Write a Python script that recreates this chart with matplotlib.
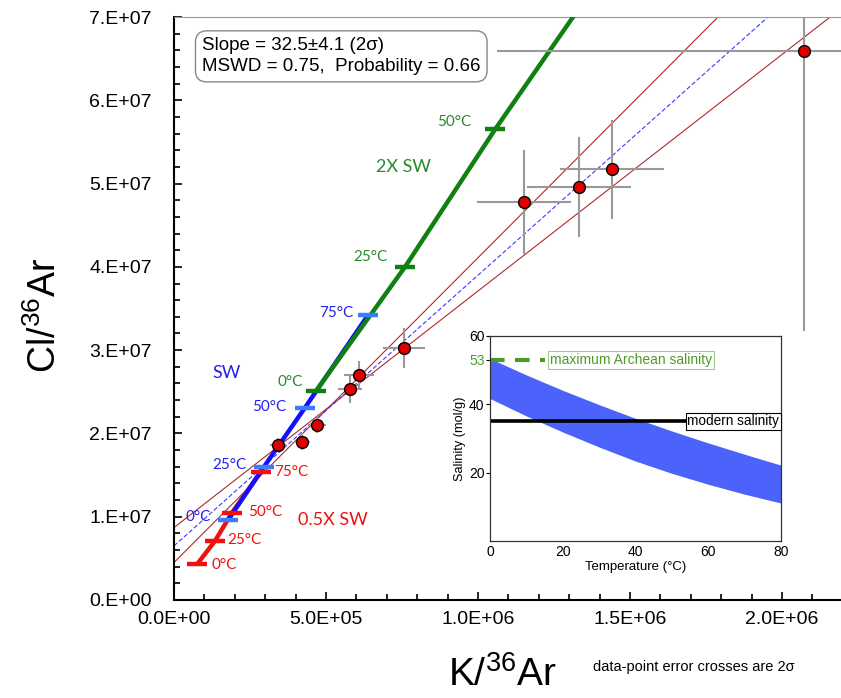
import matplotlib
matplotlib.use("Agg")
import matplotlib.pyplot as plt
from matplotlib.ticker import MultipleLocator, FuncFormatter

# isochron data points (K/36Ar, Cl/36Ar) with 2-sigma errors
k_pts = [3.42e5, 4.21e5, 4.70e5, 5.79e5, 6.09e5, 7.57e5, 1.151e6, 1.332e6, 1.441e6, 2.072e6]
cl_pts = [1.86e7, 1.90e7, 2.10e7, 2.53e7, 2.70e7, 3.02e7, 4.78e7, 4.96e7, 5.17e7, 6.59e7]
k_err = [2.5e4, 2.6e4, 3.0e4, 3.8e4, 5.0e4, 7.0e4, 1.55e5, 1.7e5, 1.7e5, 1.01e6]
cl_err = [8e5, 1.0e6, 1.0e6, 1.6e6, 1.7e6, 2.4e6, 6.2e6, 6.0e6, 5.9e6, 3.36e7]

# regression fit and envelope
slope, slope_err = 32.5, 4.1
icpt_mid, icpt_lo, icpt_hi = 6.5e6, 4.5e6, 8.7e6

# seawater-equilibrated compositions at 0, 25, 50, 75 C
temps = ["0°C", "25°C", "50°C", "75°C"]
k_half = [7.6e4, 1.35e5, 1.91e5, 2.86e5]
cl_half = [4.3e6, 7.1e6, 1.05e7, 1.54e7]
k_sw = [1.78e5, 2.96e5, 4.31e5, 6.38e5]
cl_sw = [9.6e6, 1.6e7, 2.31e7, 3.42e7]
k_2x = [4.67e5, 7.6e5, 1.056e6, 1.398e6]
cl_2x = [2.51e7, 4.0e7, 5.65e7, 7.45e7]

# inset: salinity band vs temperature
t_inset = [0, 10, 20, 30, 40, 50, 60, 70, 80]
sal_hi = [53.4, 48.6, 44.1, 39.9, 35.9, 32.2, 28.7, 25.4, 22.2]
sal_lo = [41.7, 36.6, 31.9, 27.5, 23.4, 19.8, 16.6, 13.7, 11.1]
modern_sal = 35
archean_sal = 53

W, H = 841, 698
plt.rcParams['font.family'] = ['Liberation Sans', 'DejaVu Sans']
plt.rcParams['mathtext.fontset'] = 'custom'
plt.rcParams['mathtext.rm'] = 'Liberation Sans'
plt.rcParams['mathtext.it'] = 'Liberation Sans'
fig = plt.figure(figsize=(W / 100, H / 100), dpi=100)

def fx(px):
    return px / W

def fy(py):
    return 1 - py / H

ax = fig.add_axes([fx(174), fy(600), 1 - fx(174), (600 - 17) / H])
ax.set_xlim(0, 2.194e6)
ax.set_ylim(0, 7e7)

# envelope and fit lines
xs = [0, 2.3e6]
ax.plot(xs, [icpt_hi + (slope - slope_err) * x for x in xs], color="#b02a2a", lw=0.8, zorder=2)
ax.plot(xs, [icpt_lo + (slope + slope_err) * x for x in xs], color="#b02a2a", lw=0.8, zorder=2)
ax.plot(xs, [icpt_mid + slope * x for x in xs], color="#3a3aff", lw=0.8, dashes=(4, 2), zorder=2)

# seawater lines
ax.plot(k_half, cl_half, color="#f01010", lw=3.2, solid_capstyle="butt", zorder=3)
ax.plot(k_sw, cl_sw, color="#1010ff", lw=3.2, solid_capstyle="butt", zorder=4)
ax.plot(k_2x, cl_2x, color="#108010", lw=3.2, solid_capstyle="butt", zorder=5)
ax.plot(k_half, cl_half, ls="none", marker="_", ms=15, mew=3.2, color="#f01010", zorder=6)
ax.plot(k_sw, cl_sw, ls="none", marker="_", ms=15, mew=3.2, color="#3a7cff", zorder=6)
ax.plot(k_2x, cl_2x, ls="none", marker="_", ms=15, mew=3.2, color="#108010", zorder=6)

# data points
ax.errorbar(k_pts, cl_pts, xerr=k_err, yerr=cl_err, fmt="none", ecolor="#999999",
            elinewidth=1.5, zorder=7)
ax.plot(k_pts, cl_pts, ls="none", marker="o", ms=8.5, mfc="#e00000", mec="black",
        mew=1.0, zorder=8)

ax.spines["right"].set_visible(False)
ax.spines["top"].set_color("#999999")
ax.spines["left"].set_linewidth(1.5)
ax.spines["bottom"].set_linewidth(1.5)
ax.xaxis.set_major_locator(MultipleLocator(5e5))
ax.xaxis.set_minor_locator(MultipleLocator(1e5))
ax.yaxis.set_major_locator(MultipleLocator(1e7))
ax.yaxis.set_minor_locator(MultipleLocator(2e6))
ax.xaxis.set_major_formatter(FuncFormatter(lambda v, p: "%.1E" % v))
ax.yaxis.set_major_formatter(FuncFormatter(lambda v, p: "%#.0E" % v))
ax.tick_params(which="both", direction="in", top=False, right=False, labelsize=14)
ax.tick_params(which="major", length=6, width=1.2)
ax.tick_params(which="minor", length=4, width=1.2)
ax.tick_params(axis="y", pad=16)
ax.tick_params(axis="x", pad=8)

fig.text(fx(45), fy(315), r"Cl/$^{36}$Ar", rotation=90, fontsize=27, ha="center", va="center")
fig.text(fx(502), fy(675), r"K/$^{36}$Ar", fontsize=28, ha="center", va="center")
fig.text(fx(593), fy(667), "data-point error crosses are 2σ", fontsize=10.5,
         ha="left", va="center")

ax.text(0.042, 0.965, "Slope = 32.5±4.1 (2σ)\nMSWD = 0.75,  Probability = 0.66",
        transform=ax.transAxes, fontsize=13.5, ha="left", va="top", linespacing=1.3,
        bbox=dict(boxstyle="round,pad=0.35,rounding_size=0.6", fc="white", ec="#888888", lw=1))

lab = ["Lato", "DejaVu Sans"]
def tlabel(px, py, s, c, size=11):
    fig.text(fx(px), fy(py), s, color=c, fontsize=size, ha="center", va="center", family=lab)

red, blue, green = "#ee1111", "#2222ee", "#2a8a2a"
for (px, py), s in zip([(224, 565), (244, 540), (265, 512), (291, 472)], temps):
    tlabel(px, py, s, red)
tlabel(333, 520, "0.5X SW", red, 13)
for (px, py), s in zip([(198, 517), (229, 465), (269, 407), (336, 313)], temps):
    tlabel(px, py, s, blue)
tlabel(227, 373, "SW", blue, 13)
for (px, py), s in zip([(290, 382), (370, 257), (454, 122)], temps):
    tlabel(px, py, s, green)
tlabel(404, 167, "2X SW", green, 13)

# inset
ins = fig.add_axes([fx(490), fy(541), 291 / W, 205 / H])
ins.fill_between(t_inset, sal_lo, sal_hi, color="#4b63fb", lw=0)
ins.plot([0, 53.6], [modern_sal, modern_sal], color="black", lw=2.6)
ins.text(54.2, modern_sal, "modern salinity", fontsize=9.8, ha="left", va="center",
         bbox=dict(boxstyle="square,pad=0.12", fc="white", ec="black", lw=0.8))
ins.plot([0, 15], [archean_sal, archean_sal], color="#4f9a2a", lw=3, dashes=(3.5, 2.5))
ins.text(16.5, archean_sal, "maximum Archean salinity", fontsize=10, color="#4f9a2a",
         ha="left", va="center",
         bbox=dict(boxstyle="square,pad=0.12", fc="white", ec="#9ccc88", lw=0.8))
ins.set_xlim(0, 80)
ins.set_ylim(0, 60)
ins.set_xticks([0, 20, 40, 60, 80])
ins.set_yticks([20, 40, 53, 60])
ins.set_yticklabels(["20", "40", "53", "60"])
ins.get_yticklabels()[2].set_color("#4f9a2a")
ins.tick_params(labelsize=10, length=3, pad=1)
ins.tick_params(axis="x", length=0, pad=3)
ins.set_xlabel("Temperature (°C)", fontsize=9.5, labelpad=1)
ins.set_ylabel("Salinity (mol/g)", fontsize=9.2, labelpad=2)
for s in ins.spines.values():
    s.set_linewidth(0.9)
    s.set_color("#333333")

fig.savefig("out.png", dpi=100)
